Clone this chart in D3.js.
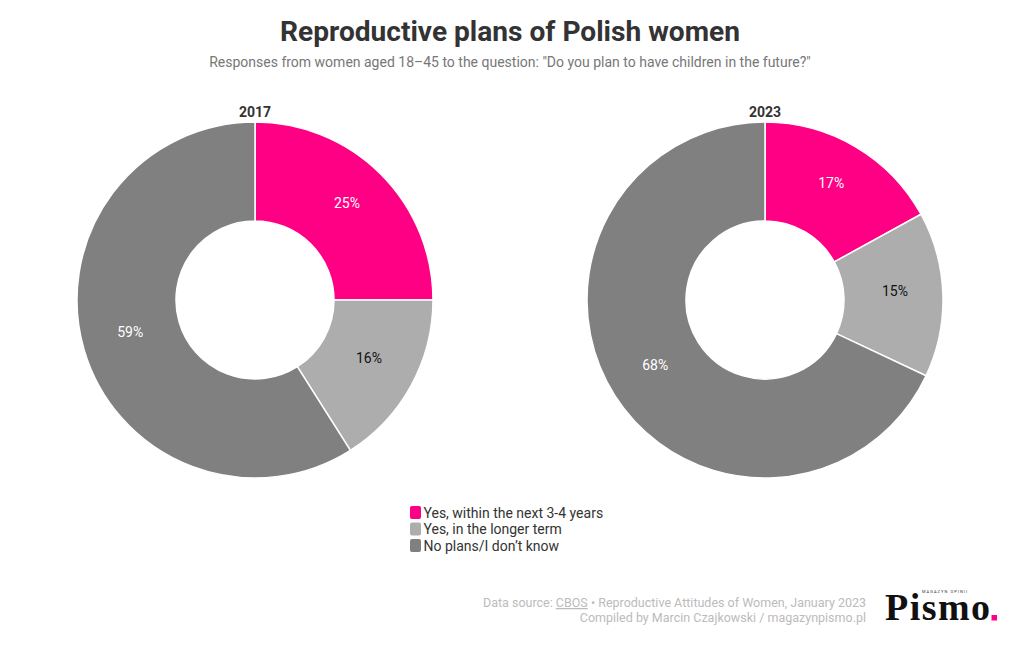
<!DOCTYPE html>
<html>
<head>
<meta charset="utf-8">
<script src="https://cdn.jsdelivr.net/npm/d3@7"></script>
<style>
  body { margin: 0; background: #fff; font-family: Roboto, sans-serif; }
</style>
</head>
<body>
<div id="chart"></div>
<script>
  // data
  let years = ["2017", "2023"];
  let categories = ["Yes, within the next 3-4 years", "Yes, in the longer term", "No plans/I don\u2019t know"];
  let values2017 = [25, 16, 59];
  let values2023 = [17, 15, 68];
  let colors = ["#ff0084", "#adadad", "#808080"];
  let labelColors = ["#fff", "#111", "#fff"];

  let width = 1020;
  let height = 650;
  let outerR = 178;
  let innerR = 79;
  let centers = [255, 765];
  let cy = 300;

  let svg = d3.select("#chart").append("svg")
    .attr("width", width)
    .attr("height", height);

  // title
  svg.append("text")
    .attr("x", 510).attr("y", 41)
    .attr("text-anchor", "middle")
    .style("font-size", "28.1px").style("font-weight", "bold").style("fill", "#333")
    .text("Reproductive plans of Polish women");
  svg.append("text")
    .attr("x", 510).attr("y", 67)
    .attr("text-anchor", "middle")
    .style("font-size", "14px").style("fill", "#777")
    .text("Responses from women aged 18\u201345 to the question: \"Do you plan to have children in the future?\"");

  let pie = d3.pie().sort(null).value(function(d) { return d; });
  let arc = d3.arc().innerRadius(innerR).outerRadius(outerR);
  let labelArc = d3.arc().innerRadius(130).outerRadius(130);

  [values2017, values2023].forEach(function(vals, i) {
    let g = svg.append("g")
      .attr("transform", "translate(" + centers[i] + "," + cy + ")");

    g.selectAll(".slice")
      .data(pie(vals))
      .enter().append("path")
        .attr("class", "slice")
        .attr("d", arc)
        .style("fill", function(d, j) { return colors[j]; })
        .style("stroke", "#fff")
        .style("stroke-width", 1.5);

    g.selectAll(".lbl")
      .data(pie(vals))
      .enter().append("text")
        .attr("class", "lbl")
        .attr("transform", function(d) { return "translate(" + labelArc.centroid(d) + ")"; })
        .attr("dy", "0.02em")
        .attr("text-anchor", "middle")
        .style("font-size", "14px")
        .style("fill", function(d, j) { return labelColors[j]; })
        .text(function(d) { return d.data + "%"; });

    g.append("text")
      .attr("y", -outerR - 5)
      .attr("text-anchor", "middle")
      .style("font-size", "14px").style("font-weight", "bold").style("fill", "#333")
      .text(years[i]);
  });

  // legend
  let legend = svg.append("g")
    .attr("transform", "translate(410,506)")
    .selectAll("g")
    .data(categories)
    .enter().append("g")
      .attr("transform", function(d, i) { return "translate(0," + (i * 16.5) + ")"; });
  legend.append("rect")
    .attr("width", 11).attr("height", 13)
    .attr("rx", 2)
    .style("fill", function(d, i) { return colors[i]; });
  legend.append("text")
    .attr("x", 13.5).attr("y", 11.5)
    .style("font-size", "14px").style("fill", "#333")
    .text(function(d) { return d; });

  // footer
  let foot = svg.append("text")
    .attr("x", 866).attr("y", 607)
    .attr("text-anchor", "end")
    .style("font-size", "12.5px").style("fill", "#bbb");
  foot.append("tspan").text("Data source: ");
  foot.append("tspan").style("text-decoration", "underline").text("CBOS");
  foot.append("tspan").text(" \u2022 Reproductive Attitudes of Women, January 2023");
  svg.append("text")
    .attr("x", 866).attr("y", 622)
    .attr("text-anchor", "end")
    .style("font-size", "12.5px").style("fill", "#bbb")
    .text("Compiled by Marcin Czajkowski / magazynpismo.pl");

  // logo
  svg.append("text")
    .attr("x", 885).attr("y", 620)
    .attr("textLength", 105)
    .attr("lengthAdjust", "spacing")
    .style("font-family", "'Liberation Serif', 'DejaVu Serif', serif")
    .style("font-size", "38px").style("font-weight", "bold").style("fill", "#111")
    .text("Pismo");
  svg.append("rect")
    .attr("x", 991.5).attr("y", 615).attr("width", 5.5).attr("height", 5.5)
    .style("fill", "#ff0084");
  svg.append("text")
    .attr("x", 922).attr("y", 593)
    .attr("textLength", 45)
    .attr("lengthAdjust", "spacing")
    .style("font-size", "4px").style("fill", "#333")
    .text("MAGAZYN OPINII");
</script>
</body>
</html>
